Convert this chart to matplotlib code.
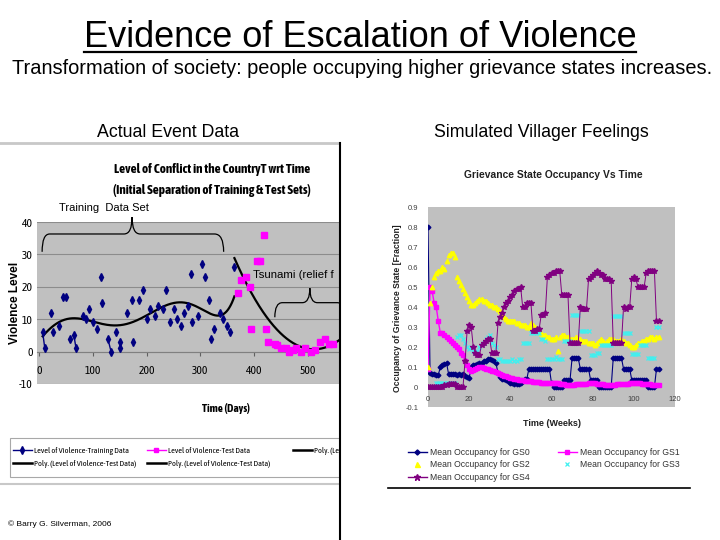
import numpy as np
import matplotlib
matplotlib.use('Agg')
import matplotlib.pyplot as plt
from matplotlib import font_manager
from matplotlib.font_manager import FontProperties
from matplotlib.lines import Line2D
from matplotlib.patches import Rectangle, PathPatch
from matplotlib.path import Path
from matplotlib.ticker import FuncFormatter
from matplotlib.transforms import Bbox, TransformedBbox

SANS = 'Liberation Sans'
plt.rcParams['font.family'] = [SANS, 'DejaVu Sans']
plt.rcParams['axes.unicode_minus'] = False

# the Excel charts use a narrow face; take a condensed one if there is one
weights = {}
for f in font_manager.fontManager.ttflist:
    if 'Narrow' in f.name or 'Condensed' in f.name:
        weights.setdefault(f.name, set()).add(str(f.weight))
with_bold = [n for n, w in weights.items() if w & {'700', 'bold'}]
NARROW = (with_bold or list(weights) or [SANS])[0]
NARROW_BOLD = with_bold[0] if with_bold else SANS

# ---- left chart: actual event data (days vs violence level)
train_days = [7, 11, 23, 27, 37, 44, 50, 57, 65, 69, 81, 87, 93, 101, 108, 115, 118, 128,
              134, 143, 150, 151, 164, 172, 175, 186, 194, 200, 207, 215, 221, 230, 236,
              243, 250, 257, 264, 270, 277, 282, 285, 295, 302, 309, 316, 319, 326, 336,
              341, 349, 355, 363]
train_level = [6, 1, 12, 6, 8, 17, 17, 4, 5, 1, 11, 10, 13, 9, 7, 23, 15, 4,
               0, 6, 3, 1, 12, 16, 3, 16, 19, 10, 13, 11, 14, 13, 19,
               9, 13, 10, 8, 12, 14, 24, 9, 11, 27, 23, 16, 4, 7, 12,
               10, 8, 6, 26]
train_links = [(0, 1), (8, 9), (17, 18), (20, 21)]

test_days = [369, 376, 384, 391, 394, 405, 411, 418, 421, 426, 438, 442, 450, 458,
             465, 471, 478, 487, 494, 505, 512, 522, 532, 538, 546]
test_level = [18, 22, 23, 20, 7, 28, 28, 36, 7, 3, 2.5, 2, 1, 1,
              0, 0.5, 1, 0, 1, 0, 0.5, 3, 4, 2.5, 2.5]

day_ticks = [0, 100, 200, 300, 400, 500]
level_ticks = [-10, 0, 10, 20, 30, 40]

# ---- right chart: simulated grievance state occupancy, weeks 0..112
gs0 = [0.80, 0.07, 0.065, 0.065, 0.06, 0.06, 0.10, 0.11, 0.115, 0.12,
       0.065, 0.065, 0.065, 0.065, 0.06, 0.065, 0.06, 0.065, 0.055, 0.05,
       0.045, 0.10, 0.11, 0.11, 0.115, 0.12, 0.12, 0.13, 0.13, 0.14,
       0.14, 0.135, 0.13, 0.12, 0.07, 0.05, 0.04, 0.04, 0.035, 0.03,
       0.02, 0.02, 0.015, 0.015, 0.015, 0.02, 0.03, 0.04, 0.04, 0.09,
       0.09, 0.09, 0.09, 0.09, 0.09, 0.09, 0.09, 0.09, 0.09, 0.09,
       0.02, 0.0, 0.0, 0.0, 0.0, 0.0, 0.035, 0.035, 0.035, 0.035,
       0.145, 0.145, 0.145, 0.145, 0.09, 0.09, 0.09, 0.09, 0.09, 0.035,
       0.035, 0.035, 0.035, 0.0, 0.0, 0.0, 0.0, 0.0, 0.0, 0.0,
       0.145, 0.145, 0.145, 0.145, 0.145, 0.09, 0.09, 0.09, 0.09, 0.035,
       0.035, 0.035, 0.035, 0.035, 0.035, 0.035, 0.035, 0.0, 0.0, 0.0,
       0.0, 0.09, 0.09]
gs1 = [0.09, 0.50, 0.48, 0.42, 0.40, 0.33, 0.27, 0.27, 0.26, 0.25,
       0.24, 0.23, 0.22, 0.21, 0.20, 0.19, 0.17, 0.16, 0.13, 0.11,
       0.09, 0.08, 0.085, 0.09, 0.095, 0.10, 0.10, 0.095, 0.09, 0.09,
       0.085, 0.08, 0.08, 0.075, 0.07, 0.065, 0.06, 0.055, 0.055, 0.05,
       0.045, 0.045, 0.04, 0.04, 0.035, 0.035, 0.035, 0.03, 0.03, 0.03,
       0.03, 0.025, 0.025, 0.025, 0.025, 0.02, 0.02, 0.02, 0.02, 0.02,
       0.02, 0.02, 0.02, 0.02, 0.015, 0.015, 0.015, 0.01, 0.01, 0.01,
       0.01, 0.01, 0.015, 0.015, 0.015, 0.015, 0.015, 0.015, 0.02, 0.02,
       0.02, 0.02, 0.015, 0.015, 0.015, 0.015, 0.01, 0.01, 0.01, 0.01,
       0.01, 0.01, 0.015, 0.015, 0.015, 0.015, 0.015, 0.015, 0.02, 0.02,
       0.02, 0.02, 0.02, 0.02, 0.015, 0.015, 0.015, 0.015, 0.015, 0.01,
       0.01, 0.01, 0.01]
gs2 = [0.10, 0.42, 0.50, 0.55, 0.57, 0.58, 0.58, 0.60, 0.59, 0.63,
       0.66, 0.67, 0.67, 0.65, 0.55, 0.53, 0.51, 0.49, 0.47, 0.45,
       0.43, 0.41, 0.41, 0.42, 0.43, 0.44, 0.44, 0.43, 0.43, 0.42,
       0.41, 0.41, 0.40, 0.40, 0.39, 0.38, 0.36, 0.35, 0.34, 0.33,
       0.33, 0.33, 0.33, 0.32, 0.32, 0.31, 0.31, 0.31, 0.30, 0.30,
       0.32, 0.31, 0.30, 0.29, 0.28, 0.27, 0.26, 0.26, 0.25, 0.25,
       0.24, 0.24, 0.25, 0.18, 0.25, 0.26, 0.26, 0.25, 0.25, 0.24,
       0.24, 0.24, 0.25, 0.24, 0.24, 0.23, 0.23, 0.23, 0.22, 0.22,
       0.22, 0.21, 0.22, 0.23, 0.24, 0.23, 0.22, 0.23, 0.24, 0.24,
       0.24, 0.23, 0.23, 0.23, 0.24, 0.23, 0.22, 0.22, 0.21, 0.20,
       0.20, 0.21, 0.22, 0.22, 0.23, 0.23, 0.24, 0.24, 0.25, 0.25,
       0.24, 0.25, 0.25]
gs3 = [0.0, 0.0, 0.0, 0.0, 0.02, 0.02, 0.02, 0.02, 0.02, 0.02,
       0.02, 0.02, 0.02, 0.02, 0.25, 0.26, 0.26, 0.24, 0.22, 0.20,
       0.19, 0.20, 0.18, 0.17, 0.18, 0.20, 0.21, 0.22, 0.24, 0.25,
       0.26, 0.22, 0.21, 0.20, 0.14, 0.14, 0.13, 0.13, 0.13, 0.13,
       0.13, 0.14, 0.13, 0.13, 0.14, 0.14, 0.22, 0.22, 0.22, 0.22,
       0.27, 0.27, 0.28, 0.27, 0.27, 0.24, 0.24, 0.23, 0.14, 0.14,
       0.14, 0.14, 0.15, 0.14, 0.14, 0.14, 0.23, 0.23, 0.23, 0.23,
       0.36, 0.36, 0.36, 0.36, 0.28, 0.28, 0.28, 0.28, 0.28, 0.16,
       0.16, 0.16, 0.17, 0.17, 0.21, 0.21, 0.21, 0.21, 0.21, 0.21,
       0.355, 0.355, 0.355, 0.355, 0.355, 0.27, 0.27, 0.27, 0.27, 0.165,
       0.165, 0.165, 0.165, 0.21, 0.21, 0.21, 0.21, 0.145, 0.145, 0.145,
       0.145, 0.30, 0.30]
gs4 = [0.0, 0.0, 0.0, 0.0, 0.0, 0.0, 0.0, 0.0, 0.01, 0.01,
       0.013, 0.013, 0.015, 0.013, 0.0, 0.0, 0.0, 0.0, 0.13, 0.28,
       0.31, 0.30, 0.20, 0.17, 0.16, 0.16, 0.21, 0.22, 0.23, 0.24,
       0.24, 0.17, 0.17, 0.17, 0.32, 0.35, 0.37, 0.40, 0.42, 0.43,
       0.45, 0.46, 0.48, 0.49, 0.49, 0.50, 0.40, 0.40, 0.42, 0.42,
       0.42, 0.28, 0.28, 0.29, 0.29, 0.36, 0.36, 0.37, 0.55, 0.56,
       0.57, 0.57, 0.58, 0.58, 0.58, 0.46, 0.46, 0.46, 0.46, 0.22,
       0.22, 0.22, 0.22, 0.22, 0.40, 0.39, 0.39, 0.39, 0.54, 0.55,
       0.56, 0.57, 0.58, 0.57, 0.56, 0.56, 0.54, 0.54, 0.54, 0.53,
       0.22, 0.22, 0.22, 0.22, 0.22, 0.40, 0.39, 0.40, 0.40, 0.54,
       0.55, 0.54, 0.50, 0.50, 0.50, 0.50, 0.57, 0.58, 0.58, 0.58,
       0.58, 0.33, 0.33]
week_ticks = [0, 20, 40, 60, 80, 100, 120]
frac_ticks = [-0.1, 0, 0.1, 0.2, 0.3, 0.4, 0.5, 0.6, 0.7, 0.8, 0.9]

W, H = 720, 540
fig = plt.figure(figsize=(7.2, 5.4), dpi=100)
renderer = fig.canvas.get_renderer()


def fx(px):
    return px / W


def fy(py):
    return 1 - py / H


def rect(x0, y0, x1, y1):
    return [fx(x0), fy(y1), (x1 - x0) / W, (y1 - y0) / H]


def size_for(text, width_px, **kw):
    # font size that makes `text` about width_px wide
    t = fig.text(0, 0, text, fontsize=10, **kw)
    w = t.get_window_extent(renderer).width
    t.remove()
    return 10 * width_px / w


# ---- slide titles
title = fig.text(fx(360), fy(47), 'Evidence of Escalation of Violence', ha='center',
                 va='baseline', fontsize=26)
fig.text(fx(362), fy(74), 'Transformation of society: people occupying higher grievance states increases.',
         ha='center', va='baseline', fontsize=14.4)
fig.text(fx(168), fy(137), 'Actual Event Data', ha='center', va='baseline', fontsize=12.8)
fig.text(fx(541), fy(137), 'Simulated Villager Feelings', ha='center', va='baseline', fontsize=12.8)

# ---- left chart
tick_size = min(8.5, size_for('100', 16, family=NARROW))
ax1 = fig.add_axes(rect(37, 222, 340, 384))
ax1.set_facecolor('#c0c0c0')
ax1.set_xlim(-3.5, 559)
ax1.set_ylim(-10, 40)
for s in ['top', 'right', 'left']:
    ax1.spines[s].set_visible(False)
ax1.spines['bottom'].set_position(('data', 0))
ax1.spines['bottom'].set_color('#808080')
ax1.set_xticks(day_ticks)
ax1.set_yticks(level_ticks)
ax1.tick_params(axis='x', length=3, color='#606060', pad=7, labelsize=tick_size)
ax1.tick_params(axis='y', length=0, pad=3, labelsize=tick_size)
for lab in ax1.get_xticklabels() + ax1.get_yticklabels():
    lab.set_family(NARROW)
ax1.yaxis.grid(True, color='#8c8c8c', lw=0.8)
ax1.set_axisbelow(True)

ax1.plot(train_days, train_level, linestyle='none', marker='d', markersize=4.2,
         color='#000080', zorder=4)
for i, j in train_links:
    ax1.plot([train_days[i], train_days[j]], [train_level[i], train_level[j]],
             color='#000080', lw=1, zorder=4)
ax1.plot(test_days, test_level, linestyle='none', marker='s', markersize=4.5,
         color='#ff00ff', zorder=4)

train_fit = np.polynomial.Polynomial.fit(train_days, train_level, 6)
tx = np.linspace(min(train_days), max(train_days), 300)
ax1.plot(tx, train_fit(tx), color='black', lw=1.6, zorder=3)
test_fit = np.polynomial.Polynomial.fit(test_days, test_level, 2)
sx = np.linspace(min(test_days) - 6, 559, 300)
ax1.plot(sx, test_fit(sx), color='black', lw=1.6, zorder=3)

# braces
brace1 = Path([(6, 30.8), (6, 36.3), (20, 36.3), (158, 36.3), (173, 36.3), (173, 41.5),
               (173, 36.3), (188, 36.3), (326, 36.3), (343, 36.3), (343, 30.8)],
              [Path.MOVETO, Path.CURVE3, Path.CURVE3, Path.LINETO, Path.CURVE3, Path.CURVE3,
               Path.CURVE3, Path.CURVE3, Path.LINETO, Path.CURVE3, Path.CURVE3])
ax1.add_patch(PathPatch(brace1, facecolor='none', edgecolor='black', lw=0.9, clip_on=False))
brace2 = Path([(438, 10.6), (438, 15.1), (452, 15.1), (489, 15.1), (503, 15.1), (503, 19.6),
               (503, 15.1), (517, 15.1), (554, 15.1), (568, 15.1), (568, 10.6)],
              [Path.MOVETO, Path.CURVE3, Path.CURVE3, Path.LINETO, Path.CURVE3, Path.CURVE3,
               Path.CURVE3, Path.CURVE3, Path.LINETO, Path.CURVE3, Path.CURVE3])
ax1.add_patch(PathPatch(brace2, facecolor='none', edgecolor='black', lw=0.9))
ax1.text(121, 44.4, 'Training  Data Set', ha='center', va='center', fontsize=8, clip_on=False)
ax1.text(398, 23.7, 'Tsunami (relief f', ha='left', va='center', fontsize=8.2, clip_on=True)

head_size = size_for('Level of Conflict in the CountryT wrt Time', 196, family=NARROW_BOLD,
                     fontweight='bold')
fig.text(fx(212), fy(169.5), 'Level of Conflict in the CountryT wrt Time', ha='center',
         va='center', fontsize=head_size, fontweight='bold', family=NARROW_BOLD)
fig.text(fx(212), fy(190.5), '(Initial Separation of Training & Test Sets)', ha='center',
         va='center', fontsize=head_size, fontweight='bold', family=NARROW_BOLD)
fig.text(fx(226), fy(408), 'Time (Days)', ha='center', va='center',
         fontsize=size_for('Time (Days)', 48, family=NARROW_BOLD, fontweight='bold'),
         fontweight='bold', family=NARROW_BOLD)
fig.text(fx(15), fy(303), 'Violence Level', ha='center', va='center', rotation=90,
         fontsize=8.5, fontweight='bold')

leg_size = size_for('Level of Violence-Training Data', 94, family=NARROW)
left_prop = FontProperties(family=NARROW, size=leg_size)
leg_kw = dict(loc='upper left', frameon=False, handlelength=19 / (leg_size * 1.389),
              handletextpad=0.25, labelspacing=(14 - leg_size * 1.6) / (leg_size * 1.389),
              borderpad=0, borderaxespad=0, prop=left_prop)
h_train = Line2D([], [], color='#000080', marker='d', markersize=4, lw=1)
h_test = Line2D([], [], color='#ff00ff', marker='s', markersize=3.2, lw=1)
h_poly = Line2D([], [], color='black', lw=1.8)
row_top = fy(452 - leg_size * 0.8)
fig.legend([h_train, h_poly], ['Level of Violence-Training Data', 'Poly. (Level of Violence-Test Data)'],
           bbox_to_anchor=(fx(13), row_top), **leg_kw)
fig.legend([h_test, h_poly], ['Level of Violence-Test Data', 'Poly. (Level of Violence-Test Data)'],
           bbox_to_anchor=(fx(147), row_top), **leg_kw)
cut = fig.legend([h_poly], ['Poly. (Level of Violence-Training Data)'],
                 bbox_to_anchor=(fx(293), row_top), **leg_kw)
clip_box = TransformedBbox(Bbox([[0, 0], [fx(339), 1]]), fig.transFigure)
for t in cut.get_texts():
    t.set_clip_box(clip_box)
    t.set_clip_on(True)
fig.add_artist(Rectangle((fx(10), fy(477)), (360 - 10) / W, (477 - 438) / H, transform=fig.transFigure,
                         facecolor='none', edgecolor='#a8a8a8', lw=0.8))
fig.text(fx(8), fy(524), '\u00a9 Barry G. Silverman, 2006', ha='left', va='center', fontsize=6)

# ---- right chart
ax2 = fig.add_axes(rect(428, 207, 675, 407))
ax2.set_facecolor('#c0c0c0')
ax2.set_xlim(0, 120)
ax2.set_ylim(-0.1, 0.9)
for s in ax2.spines.values():
    s.set_visible(False)
ax2.spines['bottom'].set_position(('data', 0))
ax2.set_xticks(week_ticks)
ax2.set_yticks(frac_ticks)
ax2.yaxis.set_major_formatter(FuncFormatter(lambda v, p: '0' if abs(v) < 1e-9 else '%.1f' % v))
ax2.tick_params(length=0, labelsize=5.5, labelcolor='#404040')
ax2.tick_params(axis='x', pad=6.5)
ax2.tick_params(axis='y', pad=7)

weeks = np.arange(len(gs0))
ax2.plot(weeks, gs0, color='#000080', lw=0.8, marker='D', markersize=2.4, zorder=3)
ax2.plot(weeks, gs1, color='#ff00ff', lw=1, marker='s', markersize=3, zorder=3)
ax2.plot(weeks, gs2, linestyle='none', color='#ffff00', marker='^', markersize=3.2, zorder=3)
ax2.plot(weeks, gs3, linestyle='none', color='#40f0f0', marker='x', markersize=2.8, mew=0.9, zorder=3)
ax2.plot(weeks, gs4, color='#800080', lw=0.7, marker='*', markersize=4.2, zorder=3)

fig.text(fx(553), fy(175), 'Grievance State Occupancy Vs Time', ha='center', va='center',
         fontsize=7.4, fontweight='bold', color='#202020')
fig.text(fx(397), fy(308), 'Occupancy of Grievance State [Fraction]', ha='center', va='center',
         rotation=90, fontsize=6.2, fontweight='bold', color='#202020')
fig.text(fx(552), fy(423), 'Time (Weeks)', ha='center', va='center', fontsize=6.5,
         fontweight='bold', color='#202020')

right_kw = dict(loc='upper left', frameon=False, handlelength=2.2, handletextpad=0.3,
                labelspacing=0.4, borderpad=0, borderaxespad=0, prop={'family': SANS, 'size': 6.2},
                labelcolor='#333333')
h0 = Line2D([], [], color='#000080', lw=1, marker='D', markersize=2.6)
h1 = Line2D([], [], color='#ff00ff', lw=1, marker='s', markersize=3)
h2 = Line2D([], [], linestyle='none', color='#ffff00', marker='^', markersize=3.6)
h3 = Line2D([], [], linestyle='none', color='#40f0f0', marker='x', markersize=3.2, mew=0.9)
h4 = Line2D([], [], color='#800080', lw=1, marker='*', markersize=4.5)
fig.legend([h0, h2, h4], ['Mean Occupancy for GS0', 'Mean Occupancy for GS2', 'Mean Occupancy for GS4'],
           bbox_to_anchor=(fx(408), fy(448)), **right_kw)
fig.legend([h1, h3], ['Mean Occupancy for GS1', 'Mean Occupancy for GS3'],
           bbox_to_anchor=(fx(558), fy(448)), **right_kw)
fig.add_artist(Line2D([fx(388), fx(690)], [fy(488), fy(488)], color='black', lw=1.2))

# ---- slide frame pieces
fig.add_artist(Line2D([0, fx(338)], [fy(143), fy(143)], color='#c8c8c8', lw=2))
fig.add_artist(Line2D([0, fx(338)], [fy(484), fy(484)], color='#c8c8c8', lw=1.5))
fig.add_artist(Rectangle((fx(341), 0), (386 - 341) / W, fy(143), transform=fig.transFigure,
                         facecolor='white', edgecolor='none', zorder=10))
fig.add_artist(Line2D([fx(340), fx(340)], [fy(143), 0], color='black', lw=1.5, zorder=11))

fig.canvas.draw()
bb = title.get_window_extent().transformed(fig.transFigure.inverted())
fig.add_artist(Line2D([bb.x0, bb.x1], [fy(51.5), fy(51.5)], color='black', lw=1.6))

fig.savefig('out.png', dpi=100)
